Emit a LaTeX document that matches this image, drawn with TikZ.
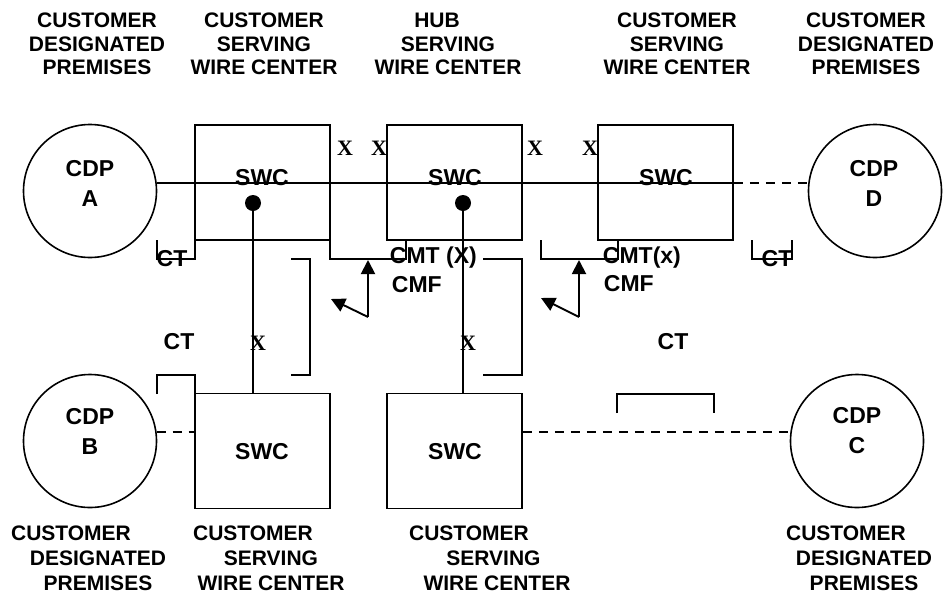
\documentclass[tikz,border=0pt]{standalone}
\usepackage{fontspec}
\setmainfont{Liberation Sans}
\newfontfamily\xfont{Liberation Serif}
\usetikzlibrary{arrows.meta}
\newcommand\shl[2]{\hspace*{#1}#2\hspace*{-#1}}
\begin{document}
\begin{tikzpicture}[x=1pt,y=-1pt, line width=1.9pt,
  box/.style={draw, minimum width=135pt, minimum height=115pt, inner sep=0pt},
  cdp/.style={draw, circle, minimum size=133pt, inner sep=0pt, line width=1.6pt},
  big/.style={font=\fontsize{23}{30}\selectfont\bfseries, inner sep=0pt, align=center},
  lab/.style={font=\fontsize{21}{23.5}\selectfont\bfseries, inner sep=0pt, align=center},
  labb/.style={font=\fontsize{21}{25}\selectfont\bfseries, inner sep=0pt, align=center},
  xm/.style={font=\fontsize{22}{22}\xfont\bfseries, inner sep=0pt},
  dsh/.style={dash pattern=on 9pt off 7pt},
  arr/.style={-{Triangle[length=14pt,width=14pt]}},
]
\useasboundingbox (0,0) rectangle (945,595);

% boxes and circles
\node[box] (S1) at (262.5,182.5) {};
\node[box] (S2) at (454.5,182.5) {};
\node[box] (S3) at (665.5,182.5) {};
\node[box] (SB) at (262.5,451) {};
\node[box] (SM) at (454.5,451) {};
\node[cdp] (A) at (90,191) {};
\node[cdp] (B) at (90,441) {};
\node[cdp] (C) at (857,441) {};
\node[cdp] (D) at (875,191) {};

% texts inside
\node[big] (t1) at (262,178) {SWC};
\node[big] (t2) at (455,178) {SWC};
\node[big] (t3) at (666,178) {SWC};
\node[big] (t4) at (262,452) {SWC};
\node[big] (t5) at (455,452) {SWC};
\node[big] (tA) at (90,183) {CDP\\A};
\node[big] (tB) at (90,431) {CDP\\B};
\node[big] (tC) at (857,431) {CDP\\C};
\node[big] (tD) at (874,183) {CDP\\D};

% dots
\coordinate (d1) at (253,203);
\coordinate (d2) at (463,203);
\fill (d1) circle (8pt);
\fill (d2) circle (8pt);

% connectors
\draw (A.7) -- (A.7 -| S3.east);
\draw[dsh] (A.7 -| S3.east) -- (D.173);
\draw (d1) -- (d1 |- SB.north);
\draw (d2) -- (d2 |- SM.north);
\draw[dsh] (B.8) -- (B.8 -| SB.west);
\draw[dsh] (C.172 -| SM.east) -- (C.172);

% brackets
\draw (157,240) -- (157,259) -- (195,259) -- (195,240);
\draw (330,240) -- (330,259) -- (406,259) -- (406,240);
\draw (541,240) -- (541,259) -- (618,259) -- (618,240);
\draw (752,240) -- (752,259) -- (792,259) -- (792,240);
\draw (291,259) -- (310,259) -- (310,375) -- (291,375);
\draw (483,259) -- (522,259) -- (522,375) -- (483,375);
\draw (157,394) -- (157,375) -- (195,375) -- (195,394);
\draw (617,413) -- (617,394) -- (714,394) -- (714,413);

% arrows
\coordinate (j1) at (368,317);
\coordinate (j2) at (579,317);
\coordinate (j1a) at (368,260);
\coordinate (j1b) at (331,299);
\coordinate (j2a) at (579,260);
\coordinate (j2b) at (541,298);
\draw[arr] (j1) -- (j1a);
\draw[arr] (j1) -- (j1b);
\draw[arr] (j2) -- (j2a);
\draw[arr] (j2) -- (j2b);

% small labels
\node[big] (ct1) at (172,259) {CT};
\node[big] (ct2) at (777,259) {CT};
\node[big] (ct3) at (179,342) {CT};
\node[big] (ct4) at (673,342) {CT};
\node[big, anchor=west] (cmt1) at (389,258) {CMT (X)};
\node[big, anchor=west] (cmf1) at (391,285) {CMF};
\node[big, anchor=west] (cmt2) at (602,258) {CMT(x)};
\node[big, anchor=west] (cmf2) at (603,284) {CMF};

% X marks
\node[xm] (x1) at (345,148) {X};
\node[xm] (x2) at (379,148) {X};
\node[xm] (x3) at (535,148) {X};
\node[xm] (x4) at (590,148) {X};
\node[xm] (x5) at (258,343) {X};
\node[xm] (x6) at (468,343) {X};

% top labels
\node[lab] (L1) at (97,44) {CUSTOMER\\DESIGNATED\\PREMISES};
\node[lab] (L2) at (264,44) {CUSTOMER\\SERVING\\WIRE CENTER};
\node[lab] (L3) at (448,44) {\shl{-11pt}{HUB}\\SERVING\\WIRE CENTER};
\node[lab] (L4) at (677,44) {CUSTOMER\\SERVING\\WIRE CENTER};
\node[lab] (L5) at (866,44) {CUSTOMER\\DESIGNATED\\PREMISES};

% bottom labels
\node[labb] (M1) at (98,558) {\shl{-27pt}{CUSTOMER}\\DESIGNATED\\PREMISES};
\node[labb] (M2) at (271,558) {\shl{-18pt}{CUSTOMER}\\SERVING\\WIRE CENTER};
\node[labb] (M3) at (497,558) {\shl{-28pt}{CUSTOMER}\\\shl{-7pt}{SERVING}\\WIRE CENTER};
\node[labb] (M4) at (864,558) {\shl{-18pt}{CUSTOMER}\\DESIGNATED\\PREMISES};
\end{tikzpicture}
\end{document}
